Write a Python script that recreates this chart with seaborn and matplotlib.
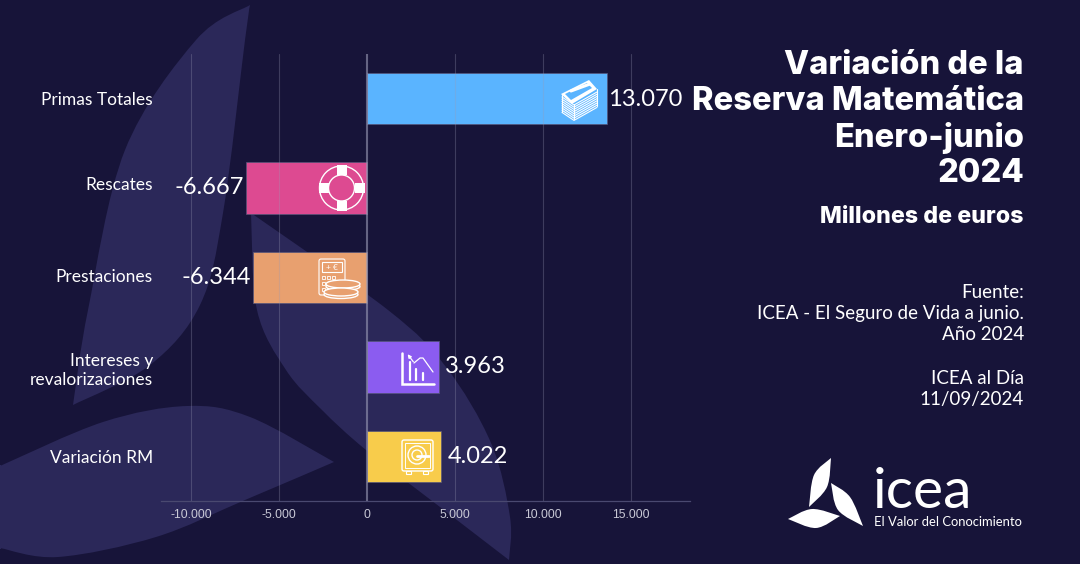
import numpy as np
import matplotlib
matplotlib.use('Agg')
import matplotlib.pyplot as plt
from matplotlib.path import Path
from matplotlib.patches import PathPatch, Circle, Rectangle, FancyBboxPatch, Ellipse, Polygon
from matplotlib.transforms import ScaledTranslation
import seaborn as sns

# Data
categories = ['Primas Totales', 'Rescates', 'Prestaciones', 'Intereses y\nrevalorizaciones', 'Variación RM']
# bar lengths as they read against the drawn axis (the printed labels are a bit shorter)
bar_lengths = [13640, -6875, -6477, 4090, 4204]
value_labels = ['13.070', '-6.667', '-6.344', '3.963', '4.022']
bar_colors = ['#5ab4ff', '#dd4a91', '#e8a06f', '#8b5cf0', '#f8cc4b']
tick_values = [-10000, -5000, 0, 5000, 10000, 15000]
tick_labels = ['-10.000', '-5.000', '0', '5.000', '10.000', '15.000']
title_lines = ['Variación de la', 'Reserva Matemática', 'Enero-junio', '2024']
source_lines = ['Fuente:', 'ICEA - El Seguro de Vida a junio.', 'Año 2024', '', 'ICEA al Día', '11/09/2024']

BG = '#171439'
LEAF = '#2b2859'
FONT = 'Lato'
W, H = 1080, 564


def smooth(points):
    # catmull-rom through the points, returned as bezier segments
    pts = [np.array(p, float) for p in points]
    out = []
    for i in range(len(pts) - 1):
        p0 = pts[max(i - 1, 0)]
        p1, p2 = pts[i], pts[i + 1]
        p3 = pts[min(i + 2, len(pts) - 1)]
        out += [p1 + (p2 - p0) / 6, p2 - (p3 - p1) / 6, p2]
    return out


def blob(ax, edges, color, **kw):
    verts = [edges[0][0]]
    for e in edges:
        verts += smooth(e)
    codes = [Path.MOVETO] + [Path.CURVE4] * (len(verts) - 1)
    ax.add_patch(PathPatch(Path(verts, codes), fc=color, ec='none', **kw))


def pixel_axes(z):
    a = fig.add_axes([0, 0, 1, 1], zorder=z)
    a.set_xlim(0, W)
    a.set_ylim(H, 0)
    a.axis('off')
    return a


sns.set_theme(style='dark')
plt.rcParams['font.family'] = [FONT, 'DejaVu Sans']
fig = plt.figure(figsize=(10.8, 5.64), dpi=100, facecolor=BG)

# background leaves
bg = pixel_axes(0)
bg.patch.set_visible(False)
blob(bg, [[(250, 5), (196, 40), (125, 150), (88, 310), (73, 405)],
          [(73, 405), (150, 365), (200, 305), (223, 213), (245, 40), (250, 5)]], LEAF)
blob(bg, [[(251, 213), (388, 310), (446, 367), (491, 443), (510, 517), (509, 560)],
          [(509, 560), (440, 507), (366, 450), (322, 410), (286, 370), (257, 310), (251, 213)]], LEAF)
blob(bg, [[(0, 466), (103, 422), (187, 406), (250, 417), (334, 462)],
          [(334, 462), (245, 500), (156, 537), (58, 557), (0, 548)]], LEAF)
bg.add_patch(Rectangle((-5, 465), 6, 84, fc=LEAF, ec='none'))

# main chart, box set so that the axis line runs 161-690 px and 54-501 px
ax = fig.add_axes([161 / W, 1 - 501 / H, (690 - 161) / W, (501 - 54) / H], zorder=1)
ax.patch.set_alpha(0)
sns.barplot(x=bar_lengths, y=categories, hue=categories, palette=bar_colors, orient='h', saturation=1,
            width=0.576, legend=False, dodge=False, edgecolor='#55557a', linewidth=0.5, ax=ax)
ax.set_xlim((161 - 367) / 0.0176, (690 - 367) / 0.0176)
ax.set_ylim(4.5, -0.5)
ax.set_xticks(tick_values)
ax.set_xticklabels(tick_labels, family='Liberation Sans', fontsize=8.7, color='#c9c9d6')
ax.tick_params(axis='x', length=0, pad=6)
ax.tick_params(axis='y', length=0, pad=5.8, labelsize=12.5, labelcolor='white')
ax.set_axisbelow(False)
ax.grid(False)
for v in tick_values:
    ax.axvline(v, color='#9a9ab5', alpha=0.6 if v == 0 else 0.3, lw=1.5 if v == 0 else 0.8, zorder=5)
for s in ['top', 'right', 'left']:
    ax.spines[s].set_visible(False)
ax.spines['bottom'].set_color('#4a4970')
ax.spines['bottom'].set_linewidth(0.9)
ax.set_xlabel('')
ax.set_ylabel('')

# category labels do not sit quite on the bar centres in the original
label_shift = [0.5, 4.3, 2.3, -0.5, 0]
for lab, dy in zip(ax.get_yticklabels(), label_shift):
    lab.set_transform(lab.get_transform() + ScaledTranslation(0, dy / 100, fig.dpi_scale_trans))
    lab.set_linespacing(1.25)

# value labels
label_dx = [1, -2, -2, 6, 7]
label_dy = [-0.5, 1, -0.5, 0.5, 0]
for i, (v, txt) in enumerate(zip(bar_lengths, value_labels)):
    ax.annotate(txt, (v, i), xytext=(label_dx[i] * 0.72, label_dy[i] * 0.72),
                textcoords='offset points', ha='left' if v > 0 else 'right', va='center',
                color='white', fontsize=17, zorder=7)

# icons and text on top
fg = pixel_axes(2)
fg.patch.set_visible(False)
lw = 0.8

# bills
fg.add_patch(Polygon([(561, 94), (589, 80), (597, 89), (572, 104)], fc='white', ec='none'))
fg.add_patch(Polygon([(565, 94), (587, 83), (592, 88), (571, 100)], fc='#5ab4ff', ec='none'))
fg.plot([571, 590], [91, 84], color='white', lw=2.2)
for k in range(8):
    d = 2.0 + k * 2.2
    fg.plot([562, 574, 597], [95 + d, 103 + d, 90 + d], color='white', lw=lw)
fg.plot([562, 562], [95, 112], color='white', lw=lw)
fg.plot([574, 574], [104, 119], color='white', lw=lw)
fg.plot([597, 597], [89, 106], color='white', lw=lw)

# life ring
for r in (22, 13):
    fg.add_patch(Circle((341.5, 188), r, fc='none', ec='white', lw=1.0))
for a in (0, 90, 180, 270):
    cx = 341.5 + 18 * np.cos(np.radians(a))
    cy = 188 + 18 * np.sin(np.radians(a))
    fg.add_patch(Rectangle((cx - 5, cy - 5), 10, 10, fc='white', ec='none'))

# calculator and coins
fg.add_patch(FancyBboxPatch((319, 259), 26, 36, boxstyle='round,pad=0,rounding_size=2',
                            fc='none', ec='white', lw=lw))
fg.add_patch(Rectangle((322, 262), 20, 10, fc='none', ec='white', lw=lw))
fg.text(332, 267.5, '+ €', color='white', fontsize=6, ha='center', va='center')
for yy in (276, 282, 288):
    for xx in (322, 327, 332):
        fg.add_patch(Rectangle((xx, yy), 3, 3, fc='none', ec='white', lw=0.6))
for cx, cy in ((343, 284), (341, 292)):
    fg.add_patch(Ellipse((cx, cy + 2.5), 34, 8, fc='#e8a06f', ec='white', lw=1.0))
    fg.add_patch(Ellipse((cx, cy), 34, 8, fc='#e8a06f', ec='white', lw=1.0))

# falling chart
fg.plot([402, 402, 434], [353, 384, 384], color='white', lw=1.8, solid_joinstyle='miter')
for xx, top in ((410, 362), (416, 369), (423, 373)):
    fg.plot([xx, xx], [top, 380], color='white', lw=1.6)
fg.annotate('', xy=(406, 352), xytext=(415, 364), arrowprops=dict(arrowstyle='-|>', color='white', lw=0.9, mutation_scale=5))
fg.plot([414, 420, 423, 433], [363, 358, 358, 372], color='white', lw=0.9)

# safe
fg.add_patch(FancyBboxPatch((402, 440), 31, 31, boxstyle='round,pad=0,rounding_size=2',
                            fc='none', ec='white', lw=1.0))
fg.add_patch(Rectangle((405, 443), 25, 25, fc='none', ec='white', lw=0.7))
for r in (9, 5):
    fg.add_patch(Circle((417, 455), r, fc='none', ec='white', lw=1.0))
fg.plot([417, 429], [456, 456], color='white', lw=2)
for xx in (406, 423):
    fg.add_patch(Rectangle((xx, 471), 5, 3, fc='none', ec='white', lw=0.8))

# title block
for yy, line in zip((66, 102, 138, 174), title_lines):
    fg.text(1024, yy, line, ha='right', va='center', color='white', fontsize=23.5,
            fontweight='heavy', family=['Inter', 'DejaVu Sans'])
fg.text(1024, 217, 'Millones de euros', ha='right', va='center', color='white', fontsize=16.7,
        fontweight='heavy', family=['Inter', 'DejaVu Sans'])
for yy, line in zip((292, 314, 335, 357, 378, 399), source_lines):
    fg.text(1024, yy, line, ha='right', va='center', color='white', fontsize=13.5)

# logo
blob(fg, [[(831, 458), (814, 475), (809, 507)], [(809, 507), (827, 487), (831, 458)]], 'white')
blob(fg, [[(831, 483), (850, 497), (863, 526)], [(863, 526), (838, 510), (831, 483)]], 'white')
blob(fg, [[(788, 519), (812, 509), (840, 516)], [(840, 516), (816, 528), (788, 519)]], 'white')
fg.text(873, 508, 'icea', ha='left', va='baseline', color='white', fontsize=41)
fg.text(874, 522, 'El Valor del Conocimiento', ha='left', va='center', color='white', fontsize=9.4)

fig.savefig('out.png', dpi=100, facecolor=BG)
